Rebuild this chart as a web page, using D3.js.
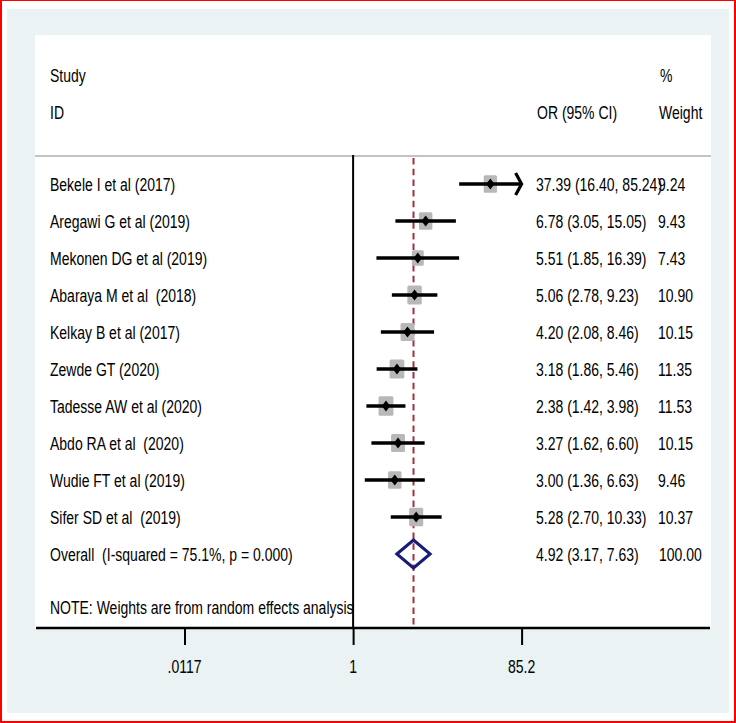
<!DOCTYPE html>
<html>
<head>
<meta charset="utf-8">
<script src="https://cdn.jsdelivr.net/npm/d3@7"></script>
<style>
  html, body { margin: 0; padding: 0; background: #ffffff; }
  svg { display: block; }
  text { font-family: "Liberation Sans", Arial, sans-serif; white-space: pre; }
</style>
</head>
<body>
<svg id="chart" width="736" height="723"></svg>
<script>
// ---- data ----
const studies = [
  "Bekele I et al (2017)",
  "Aregawi G et al (2019)",
  "Mekonen DG et al (2019)",
  "Abaraya M et al  (2018)",
  "Kelkay B et al (2017)",
  "Zewde GT (2020)",
  "Tadesse AW et al (2020)",
  "Abdo RA et al  (2020)",
  "Wudie FT et al (2019)",
  "Sifer SD et al  (2019)"
];
const orValues = [37.39, 6.78, 5.51, 5.06, 4.20, 3.18, 2.38, 3.27, 3.00, 5.28];
const lowerCI  = [16.40, 3.05, 1.85, 2.78, 2.08, 1.86, 1.42, 1.62, 1.36, 2.70];
const upperCI  = [85.24, 15.05, 16.39, 9.23, 8.46, 5.46, 3.98, 6.60, 6.63, 10.33];
const weights  = [9.24, 9.43, 7.43, 10.90, 10.15, 11.35, 11.53, 10.15, 9.46, 10.37];

const overallLabel = "Overall  (I-squared = 75.1%, p = 0.000)";
const overallOR = 4.92, overallLower = 3.17, overallUpper = 7.63, overallWeight = 100.00;

const tickValues = [0.0117, 1, 85.2];
const tickLabels = [".0117", "1", "85.2"];
const noteText = "NOTE: Weights are from random effects analysis";

// ---- layout ----
const svg = d3.select("#chart");
const W = 736, H = 723;
const SY = 1.35;     // vertical stretch of the original picture
const FS = 14;

const x = d3.scaleLog().domain([tickValues[0], tickValues[2]]).range([184.5, 521.6]);
const rowY = d3.scaleLinear().domain([0, 1]).range([184, 221]); // row index -> centre
const sqK = 4.375;   // square side per sqrt(weight)

// frame
svg.append("rect").attr("x", 0).attr("y", 0).attr("width", W).attr("height", H).attr("fill", "#ff0000");
svg.append("rect").attr("x", 2).attr("y", 1).attr("width", W - 4).attr("height", H - 3).attr("fill", "#ffffff");
svg.append("rect").attr("x", 7).attr("y", 9).attr("width", 722).attr("height", 704).attr("fill", "#eaf2f3");
svg.append("rect").attr("x", 35).attr("y", 35).attr("width", 676).attr("height", 593).attr("fill", "#ffffff");

function label(txt, px, cy, anchor) {
  svg.append("text")
    .attr("transform", `translate(${px},${cy}) scale(1,${SY})`)
    .attr("y", 0.358 * FS)
    .attr("font-size", FS)
    .attr("text-anchor", anchor || "start")
    .attr("fill", "#000")
    .text(txt);
}

// header
label("Study", 50, 75);
label("ID", 50, 112);
label("%", 660, 75);
label("Weight", 659, 112);
label("OR (95% CI)", 537, 112);

// separator line
svg.append("line").attr("x1", 35).attr("x2", 711).attr("y1", 156).attr("y2", 156)
  .attr("stroke", "#c3c3c3").attr("stroke-width", 2);

// null line
svg.append("line").attr("x1", x(1)).attr("x2", x(1)).attr("y1", 155).attr("y2", 628)
  .attr("stroke", "#000").attr("stroke-width", 2);

// overall dashed line
svg.append("line").attr("x1", x(overallOR)).attr("x2", x(overallOR)).attr("y1", 158).attr("y2", 628)
  .attr("stroke", "#a3303f").attr("stroke-width", 2).attr("stroke-dasharray", "6.5,4.2");

const fmt = d3.format(".2f");
const xMax = x.domain()[1];

studies.forEach((s, i) => {
  const cy = rowY(i);
  const lo = lowerCI[i], hi = upperCI[i];
  const clippedHi = Math.min(hi, xMax);
  // square
  const side = sqK * Math.sqrt(weights[i]);
  svg.append("rect")
    .attr("x", x(orValues[i]) - side / 2).attr("y", cy - side * 1.3 / 2)
    .attr("width", side).attr("height", side * 1.3).attr("rx", 1.5)
    .attr("fill", "#b8b8b8");
  // CI line
  svg.append("line").attr("x1", x(lo)).attr("x2", x(clippedHi)).attr("y1", cy).attr("y2", cy)
    .attr("stroke", "#000").attr("stroke-width", 3.5);
  if (hi > xMax) {
    const xe = x(xMax);
    svg.append("path").attr("d", `M${xe - 6},${cy - 11} L${xe},${cy} L${xe - 6},${cy + 11}`)
      .attr("fill", "none").attr("stroke", "#000").attr("stroke-width", 3.2);
  }
  // point diamond
  const px = x(orValues[i]);
  svg.append("path").attr("d", `M${px - 4.2},${cy} L${px},${cy - 5.5} L${px + 4.2},${cy} L${px},${cy + 5.5} Z`)
    .attr("fill", "#000");
  // texts
  label(s, 50, cy);
  label(`${fmt(orValues[i])} (${fmt(lo)}, ${fmt(hi)})`, 536, cy);
  label(fmt(weights[i]), 658, cy);
});

// overall
const oy = rowY(studies.length);
svg.append("path")
  .attr("d", `M${x(overallLower)},${oy} L${x(overallOR)},${oy - 14} L${x(overallUpper)},${oy} L${x(overallOR)},${oy + 14} Z`)
  .attr("fill", "none").attr("stroke", "#1a1a78").attr("stroke-width", 3);
label(overallLabel, 50, oy);
label(`${fmt(overallOR)} (${fmt(overallLower)}, ${fmt(overallUpper)})`, 536, oy);
label(fmt(overallWeight), 659, oy);

// note
label(noteText, 50, 607);

// axis
const axisG = svg.append("g").attr("transform", "translate(0,628)");
axisG.append("line").attr("x1", 36).attr("x2", 710).attr("y1", 0).attr("y2", 0)
  .attr("stroke", "#000").attr("stroke-width", 2.5);
const axis = d3.axisBottom(x).tickValues(tickValues).tickFormat((d, i) => tickLabels[i])
  .tickSize(17).tickPadding(0);
const ag = svg.append("g").attr("transform", "translate(0,628)").call(axis);
ag.select(".domain").remove();
ag.selectAll(".tick line").attr("stroke", "#000").attr("stroke-width", 2);
ag.selectAll(".tick text").remove();
tickValues.forEach((t, i) => label(tickLabels[i], x(t), 666, "middle"));
</script>
</body>
</html>
